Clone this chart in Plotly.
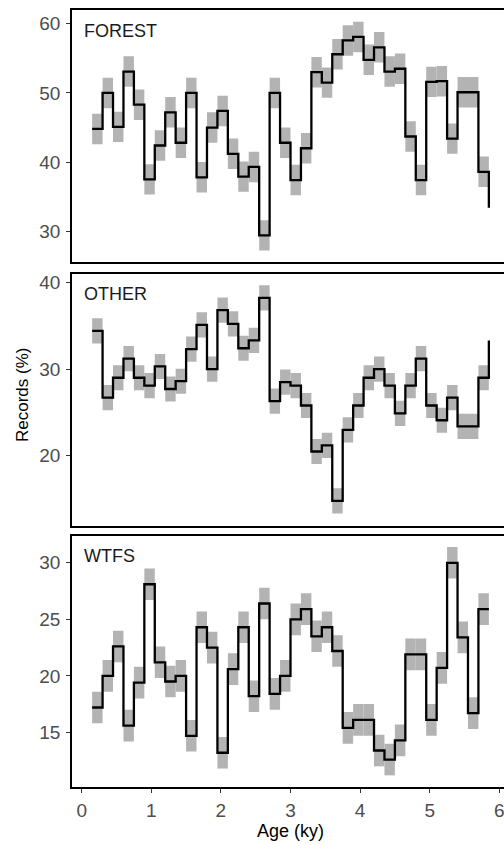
import numpy as np
import plotly.graph_objects as go

# ---- data ----
AGES = [0.15, 0.30, 0.45, 0.60, 0.75, 0.90, 1.05, 1.20, 1.35, 1.50,
        1.65, 1.80, 1.95, 2.10, 2.25, 2.40, 2.55, 2.70, 2.85, 3.00,
        3.15, 3.30, 3.45, 3.60, 3.75, 3.90, 4.05, 4.20, 4.35, 4.50,
        4.65, 4.80, 4.95, 5.10, 5.25, 5.40, 5.55, 5.70, 5.85]

FOREST = [44.8, 50.0, 45.1, 53.1, 48.3, 37.5, 42.4, 47.2, 42.8, 50.0,
          37.8, 45.0, 47.4, 41.2, 37.9, 39.3, 29.4, 50.0, 42.8, 37.4,
          42.0, 53.0, 51.5, 55.6, 57.6, 58.1, 54.8, 56.6, 53.1, 53.5,
          43.7, 37.4, 51.6, 51.7, 43.4, 50.1, 50.1, 38.6, 33.4]

OTHER = [34.4, 26.7, 29.0, 31.2, 29.0, 28.1, 30.3, 27.7, 28.6, 32.3,
         35.1, 30.0, 36.8, 35.2, 32.4, 33.3, 38.2, 26.3, 28.5, 28.1,
         25.8, 20.5, 21.2, 14.8, 23.0, 25.8, 29.0, 30.0, 28.1, 24.9,
         28.1, 31.2, 25.8, 24.1, 26.7, 23.4, 23.4, 29.0, 33.3]

WTFS = [17.2, 20.0, 22.6, 15.6, 19.4, 28.1, 21.2, 19.5, 20.0, 14.7,
        24.3, 22.5, 13.2, 20.6, 24.3, 18.2, 26.4, 18.4, 20.0, 25.0,
        25.9, 23.5, 24.3, 22.2, 15.4, 16.1, 16.1, 13.4, 12.6, 14.3,
        21.9, 21.9, 16.1, 20.7, 30.0, 23.4, 16.7, 25.9, 25.9]

PANELS = ["FOREST", "OTHER", "WTFS"]
ERRORS = [2.2, 1.45, 1.4]          # half-height of the grey bands
Y_RANGES = [[25.5, 62.0], [11.95, 41.0], [10.17, 32.4]]
Y_TICKS = [[30, 40, 50, 60], [20, 30, 40], [15, 20, 25, 30]]
X_TICKS = [0, 1, 2, 3, 4, 5, 6]
X_TITLE = "Age (ky)"
Y_TITLE = "Records (%)"

# ---- figure ----
FONT = "Liberation Sans, Arial, sans-serif"
W, H = 560, 845          # wider than the window: right edge is cut like the reference
L, R, T, B = 72, 51, 8, 58
plot_h = H - T - B
plot_w = W - L - R
# panel pixel extents (top, bottom)
panel_px = [(8, 261), (272.3, 525), (535, 787)]

fig = go.Figure()
ages = np.array(AGES)
widths = np.diff(ages)
for i, (name, vals) in enumerate(zip(PANELS, [FOREST, OTHER, WTFS])):
    v = np.array(vals)
    e = ERRORS[i]
    ax = "" if i == 0 else str(i + 1)
    fig.add_trace(go.Bar(
        x=ages[:-1], y=np.full(len(v) - 1, 2 * e), base=v[:-1] - e,
        width=widths, offset=0,
        marker=dict(color="#b3b3b3", line=dict(width=0)),
        xaxis="x" + ax, yaxis="y" + ax, showlegend=False, hoverinfo="skip"))
    fig.add_trace(go.Scatter(
        x=ages, y=v, mode="lines", line=dict(shape="hv", color="black", width=2.3),
        xaxis="x" + ax, yaxis="y" + ax, showlegend=False))

x_range = [(L - 81.7) / 69.6, (W - R - 81.7) / 69.6]
layout = dict(
    width=W, height=H, margin=dict(l=L, r=R, t=T, b=B),
    plot_bgcolor="white", paper_bgcolor="white", barmode="overlay",
    font=dict(family=FONT, color="#4d4d4d"),
)
TICKFONT = dict(size=19, color="#4d4d4d", family=FONT)
for i in range(3):
    top, bot = panel_px[i]
    d0 = (H - B - bot) / plot_h
    d1 = (H - B - top) / plot_h
    ax = "" if i == 0 else str(i + 1)
    last = i == 2
    layout["xaxis" + ax] = dict(
        domain=[0, 1], range=x_range, anchor="y" + ax,
        showline=True, linecolor="black", linewidth=1.6, mirror=True,
        showgrid=False, zeroline=False,
        tickvals=X_TICKS if last else [], showticklabels=last,
        ticks="outside" if last else "", ticklen=4, tickwidth=1.2, tickcolor="#333333",
        tickfont=TICKFONT, ticklabelstandoff=1, ticklabeloverflow="allow",
        matches=None if i == 0 else "x",
    )
    layout["yaxis" + ax] = dict(
        domain=[d0, d1], range=Y_RANGES[i], anchor="x" + ax,
        showline=True, linecolor="black", linewidth=1.6, mirror=False,
        showgrid=False, zeroline=False,
        tickvals=Y_TICKS[i], ticks="outside", ticklen=4, tickwidth=1.2,
        tickcolor="#333333", tickfont=TICKFONT, ticklabelstandoff=2,
    )
fig.update_layout(**layout)

ann = []
for i, name in enumerate(PANELS):
    ax = "" if i == 0 else str(i + 1)
    ann.append(dict(text=name, xref="x" + ax + " domain", yref="y" + ax + " domain",
                    x=(81.5 - L) / plot_w, y=0.918, xanchor="left", yanchor="middle",
                    showarrow=False, font=dict(size=18, color="#1a1a1a", family=FONT)))
ann.append(dict(text=X_TITLE, xref="paper", yref="paper",
                x=0.5, y=(H - B - 831) / plot_h,
                xanchor="center", yanchor="middle", showarrow=False,
                font=dict(size=18, color="black", family=FONT)))
ann.append(dict(text=Y_TITLE, xref="paper", yref="paper",
                x=(22 - L) / plot_w, y=(H - B - 394) / plot_h, textangle=-90,
                xanchor="center", yanchor="middle", showarrow=False,
                font=dict(size=17, color="black", family=FONT)))
fig.update_layout(annotations=ann)

fig.write_html(
    "out.html",
    config={"displayModeBar": False},
    post_script=(
        "document.body.style.margin='0';"
        "document.body.style.overflow='hidden';"
        "document.documentElement.style.overflow='hidden';"
    ),
)
